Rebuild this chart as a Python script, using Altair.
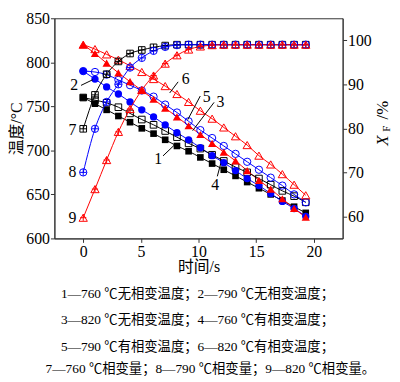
import altair as alt
import pandas as pd

# ---------------- data ----------------
times = [0, 1.02, 2.03, 3.05, 4.06, 5.08, 6.1, 7.11, 8.13, 9.14,
         10.16, 11.18, 12.19, 13.21, 14.22, 15.24, 16.26, 17.27, 18.29, 19.3]

temp_760_no = [760, 753, 746, 739, 732, 725, 719, 712, 705, 699, 692, 685, 678, 671, 664, 657, 650, 643, 636, 629]
temp_790_no = [790, 781, 772, 764, 755, 746, 738, 729, 720, 712, 703, 694, 686, 677, 668, 660, 651, 642, 634, 625]
temp_820_no = [820, 810, 799, 788, 778, 768, 758, 748, 738, 728, 718, 708, 698, 688, 677, 666, 656, 645, 634, 624]
temp_760_ph = [760, 757, 754, 749, 742, 735, 729, 722, 715, 708, 702, 695, 688, 681, 675, 668, 661, 654, 648, 641]
temp_790_ph = [790, 789, 786, 780, 774, 768, 761, 752, 743, 733, 723, 714, 705, 696, 687, 678, 669, 660, 650, 641]
temp_820_ph = [820, 815, 809, 803, 796, 789, 781, 773, 764, 755, 745, 736, 726, 716, 706, 694, 684, 673, 661, 649]

xf_760 = [79.9, 87.6, 92.3, 95.2, 97.0, 97.8, 98.4, 98.8, 99.0, 99.0,
          99.0, 99.0, 99.0, 99.0, 99.0, 99.0, 99.0, 99.0, 99.0, 99.0]
xf_790 = [70.0, 79.9, 86.0, 90.0, 93.8, 96.0, 97.6, 98.5, 98.9, 99.0,
          99.0, 99.0, 99.0, 99.0, 99.0, 99.0, 99.0, 99.0, 99.0, 99.0]
xf_820 = [59.7, 66.2, 72.8, 79.2, 84.4, 88.7, 92.0, 94.7, 96.6, 97.9,
          98.6, 98.9, 99.0, 99.0, 99.0, 99.0, 99.0, 99.0, 99.0, 99.0]

# curve labels (data coordinates on the time / temperature scales)
lab_text = ["1", "2", "3", "4", "5", "6", "7", "8", "9"]
lab_t = [6.5, -0.78, 11.9, 11.45, 10.7, 8.89, -0.94, -0.94, -0.94]
lab_temp = [690, 774, 754.5, 661, 760, 781, 723.4, 675.1, 623.6]
# leader lines
lead_t1 = [6.92, -0.19, 11.35, 11.63, 10.15, 8.23]
lead_v1 = [693.7, 773.8, 754.5, 670.5, 761.7, 777.8]
lead_t2 = [7.92, 0.84, 9.49, 11.92, 9.07, 7.5]
lead_v2 = [706.2, 780.3, 722.3, 684.8, 734.9, 765.2]

captions = [
    "1—760 ℃无相变温度；2—790 ℃无相变温度；",
    "3—820 ℃无相变温度；4—760 ℃有相变温度；",
    "5—790 ℃有相变温度；6—820 ℃有相变温度；",
    "7—760 ℃相变量；8—790 ℃相变量；9—820 ℃相变量。",
]

BLACK = "#000000"
BLUE = "#0000ff"
RED = "#ff0000"
SERIF = "Liberation Serif, Noto Sans CJK SC"
PLUS = "M-1,0L1,0M0,-1L0,1"

W, H = 292, 223

x_enc = alt.X("t:Q", scale=alt.Scale(domain=[-2.5, 22.5], nice=False, zero=False),
              axis=alt.Axis(values=[0, 5, 10, 15, 20], title="时间/s",
                            titleY=29, titleBaseline="middle", titleX=W / 2))
y_temp = alt.Y("v:Q", scale=alt.Scale(domain=[600, 850], nice=False, zero=False),
               axis=alt.Axis(values=[600, 650, 700, 750, 800, 850], title="温度/°C",
                             titleX=-38, titleY=H / 2, titleBaseline="middle", titleAngle=270))
y_xf = alt.Y("v:Q", scale=alt.Scale(domain=[55, 105], nice=False, zero=False),
             axis=alt.Axis(values=[60, 70, 80, 90, 100], title=None, orient="right"))


def frame(vals):
    return pd.DataFrame({"t": times, "v": vals})


def line(vals, color, y):
    return alt.Chart(frame(vals)).mark_line(color=color, strokeWidth=1, interpolate="monotone").encode(x=x_enc, y=y)


def pts(vals, color, shape, filled, size, y):
    return alt.Chart(frame(vals)).mark_point(shape=shape, filled=filled, color=color, size=size,
                                             strokeWidth=1, opacity=1).encode(x=x_enc, y=y)


temp_layers = [
    line(temp_760_no, BLACK, y_temp), line(temp_790_no, BLUE, y_temp), line(temp_820_no, RED, y_temp),
    line(temp_760_ph, BLACK, y_temp), line(temp_790_ph, BLUE, y_temp), line(temp_820_ph, RED, y_temp),
    pts(temp_760_ph, BLACK, "square", False, 45, y_temp),
    pts(temp_790_ph, BLUE, "circle", False, 55, y_temp),
    pts(temp_820_ph, RED, "triangle-up", False, 70, y_temp),
    pts(temp_760_no, BLACK, "square", True, 45, y_temp),
    pts(temp_790_no, BLUE, "circle", True, 55, y_temp),
    pts(temp_820_no, RED, "triangle-up", True, 70, y_temp),
]

lab_df = pd.DataFrame({"t": lab_t, "v": lab_temp, "lab": lab_text})
labels = alt.Chart(lab_df).mark_text(font=SERIF, fontSize=16, color=BLACK).encode(
    x=x_enc, y=y_temp, text="lab:N")
lead_df = pd.DataFrame({"t": lead_t1, "v": lead_v1, "t2": lead_t2, "v2": lead_v2})
leaders = alt.Chart(lead_df).mark_rule(color=BLACK, strokeWidth=1).encode(
    x=x_enc, y=y_temp, x2="t2:Q", y2="v2:Q")

one = pd.DataFrame({"a": [0]})
cap_y = [279, 306, 333, 355]
cap_x = [145, 145, 145, 158]
cap_layers = [
    alt.Chart(one).mark_text(text=c, font=SERIF, fontSize=13.5, color=BLACK, align="center",
                             baseline="middle").encode(x=alt.value(xx), y=alt.value(yy))
    for c, xx, yy in zip(captions, cap_x, cap_y)
]
rt = [
    alt.Chart(one).mark_text(text="X", font="Liberation Serif", fontStyle="italic", fontSize=17,
                             angle=270, align="center", baseline="middle", color=BLACK
                             ).encode(x=alt.value(333), y=alt.value(124)),
    alt.Chart(one).mark_text(text="F", font="Liberation Serif", fontSize=11,
                             angle=270, align="center", baseline="middle", color=BLACK
                             ).encode(x=alt.value(337), y=alt.value(112)),
    alt.Chart(one).mark_text(text="/%", font="Liberation Serif", fontSize=17,
                             angle=270, align="center", baseline="middle", color=BLACK
                             ).encode(x=alt.value(333), y=alt.value(93)),
]

temp_group = alt.layer(*temp_layers, leaders, labels, *cap_layers, *rt)

xf_group = alt.layer(
    line(xf_760, BLACK, y_xf), line(xf_790, BLUE, y_xf), line(xf_820, RED, y_xf),
    pts(xf_760, BLACK, "square", False, 45, y_xf), pts(xf_760, BLACK, PLUS, False, 45, y_xf),
    pts(xf_790, BLUE, "circle", False, 55, y_xf), pts(xf_790, BLUE, PLUS, False, 50, y_xf),
    pts(xf_820, RED, "triangle-up", False, 70, y_xf), pts(xf_820, RED, PLUS, False, 40, y_xf),
)

chart = alt.layer(temp_group, xf_group).resolve_scale(y="independent").properties(
    width=W, height=H,
    autosize=alt.AutoSizeParams(type="none"),
    padding={"left": 47, "top": 8, "right": 50, "bottom": 140},
).configure_view(stroke="#333333", strokeWidth=1).configure_axis(
    labelFont="Liberation Serif", labelFontSize=16, labelColor=BLACK,
    titleFont=SERIF, titleFontSize=16, titleFontWeight="normal", titleColor=BLACK,
    domainColor="#333333", tickColor="#333333", tickSize=4, labelPadding=1, grid=False,
)

chart.save("out.html", embed_options={"renderer": "svg", "actions": False})
